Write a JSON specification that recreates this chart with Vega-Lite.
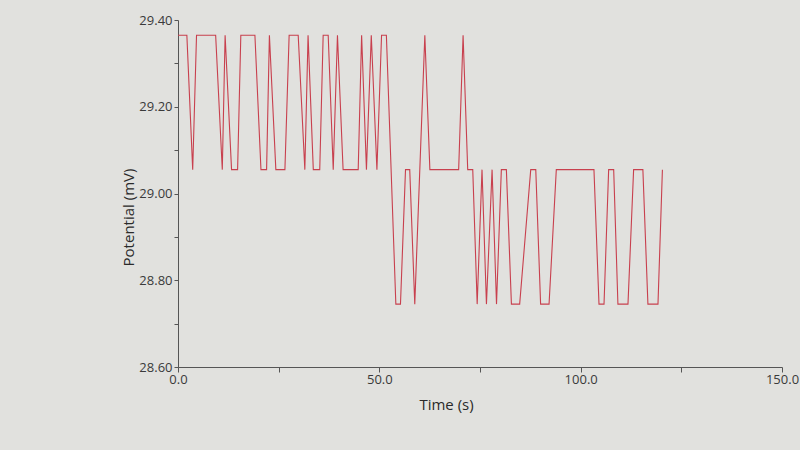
{
  "$schema": "https://vega.github.io/schema/vega-lite/v6.json",
  "width": 604,
  "height": 347,
  "autosize": {"type": "none"},
  "padding": {"left": 178, "top": 20, "right": 18, "bottom": 83},
  "background": "#e1e1de",
  "config": {"view": {"stroke": null}},
  "data": {"values": [
    {"t": 0, "v": 29.365}, {"t": 2.2, "v": 29.365}, {"t": 3.65, "v": 29.055}, {"t": 4.6, "v": 29.365},
    {"t": 9.35, "v": 29.365}, {"t": 11.0, "v": 29.055}, {"t": 11.7, "v": 29.365}, {"t": 13.3, "v": 29.055},
    {"t": 14.8, "v": 29.055}, {"t": 15.6, "v": 29.365}, {"t": 19.1, "v": 29.365}, {"t": 20.6, "v": 29.055},
    {"t": 22.0, "v": 29.055}, {"t": 22.7, "v": 29.365}, {"t": 24.3, "v": 29.055}, {"t": 26.55, "v": 29.055},
    {"t": 27.6, "v": 29.365}, {"t": 29.85, "v": 29.365}, {"t": 31.5, "v": 29.055}, {"t": 32.3, "v": 29.365},
    {"t": 33.6, "v": 29.055}, {"t": 35.2, "v": 29.055}, {"t": 36.05, "v": 29.365}, {"t": 37.3, "v": 29.365},
    {"t": 38.55, "v": 29.055}, {"t": 39.6, "v": 29.365}, {"t": 41.0, "v": 29.055}, {"t": 44.75, "v": 29.055},
    {"t": 45.6, "v": 29.365}, {"t": 46.8, "v": 29.055}, {"t": 48.0, "v": 29.365}, {"t": 49.4, "v": 29.055},
    {"t": 50.55, "v": 29.365}, {"t": 51.75, "v": 29.365}, {"t": 54.1, "v": 28.745}, {"t": 55.25, "v": 28.745},
    {"t": 56.5, "v": 29.055}, {"t": 57.55, "v": 29.055}, {"t": 58.8, "v": 28.745}, {"t": 61.3, "v": 29.365},
    {"t": 62.55, "v": 29.055}, {"t": 69.7, "v": 29.055}, {"t": 70.8, "v": 29.365}, {"t": 71.95, "v": 29.055},
    {"t": 73.2, "v": 29.055}, {"t": 74.3, "v": 28.745}, {"t": 75.5, "v": 29.055}, {"t": 76.6, "v": 28.745},
    {"t": 78.0, "v": 29.055}, {"t": 79.1, "v": 28.745}, {"t": 80.3, "v": 29.055}, {"t": 81.55, "v": 29.055},
    {"t": 82.8, "v": 28.745}, {"t": 84.85, "v": 28.745}, {"t": 87.6, "v": 29.055}, {"t": 88.85, "v": 29.055},
    {"t": 90.05, "v": 28.745}, {"t": 92.15, "v": 28.745}, {"t": 93.95, "v": 29.055}, {"t": 103.3, "v": 29.055},
    {"t": 104.55, "v": 28.745}, {"t": 105.8, "v": 28.745}, {"t": 106.95, "v": 29.055}, {"t": 108.2, "v": 29.055},
    {"t": 109.25, "v": 28.745}, {"t": 111.75, "v": 28.745}, {"t": 113.15, "v": 29.055}, {"t": 115.45, "v": 29.055},
    {"t": 116.7, "v": 28.745}, {"t": 119.2, "v": 28.745}, {"t": 120.3, "v": 29.055}
  ]},
  "mark": {"type": "line", "color": "#c8404e", "strokeWidth": 1.1, "interpolate": "linear"},
  "encoding": {
    "x": {
      "field": "t", "type": "quantitative",
      "scale": {"domain": [0, 150], "nice": false, "zero": false},
      "axis": {
        "title": "Time (s)",
        "values": [0, 25, 50, 75, 100, 125, 150],
        "labelExpr": "datum.value % 50 === 0 ? format(datum.value, '.1f') : ''",
        "grid": false, "domainColor": "#555555", "tickColor": "#555555", "tickSize": 5,
        "labelFont": "Open Sans", "labelFontSize": 13, "labelColor": "#3a3a3a", "labelPadding": 1,
        "labelFlush": false, "labelOverlap": false, "labelBound": false,
        "titleFont": "Open Sans", "titleFontSize": 15, "titleFontWeight": "normal", "titleColor": "#2a2a2a",
        "titleX": 268, "titleY": 42, "titleAnchor": "middle", "titleAlign": "center", "titleBaseline": "alphabetic"
      }
    },
    "y": {
      "field": "v", "type": "quantitative",
      "scale": {"domain": [28.6, 29.4], "nice": false, "zero": false},
      "axis": {
        "title": "Potential (mV)",
        "values": [28.6, 28.7, 28.8, 28.9, 29.0, 29.1, 29.2, 29.3, 29.4],
        "labelExpr": "abs(round(datum.value * 10) % 2) === 0 ? format(datum.value, '.2f') : ''",
        "grid": false, "domainColor": "#555555", "tickColor": "#555555", "tickSize": 4,
        "labelFont": "Open Sans", "labelFontSize": 13, "labelColor": "#3a3a3a", "labelPadding": 2,
        "labelFlush": false, "labelOverlap": false, "labelBound": false,
        "titleFont": "Open Sans", "titleFontSize": 15, "titleFontWeight": "normal", "titleColor": "#2a2a2a",
        "titleX": -50, "titleY": 197, "titleAngle": -90, "titleAlign": "center", "titleBaseline": "middle"
      }
    }
  }
}
